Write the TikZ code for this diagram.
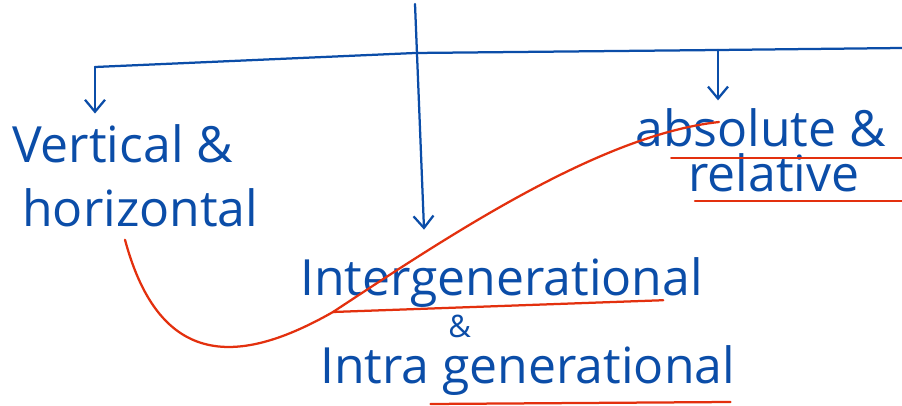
\documentclass[tikz,border=0pt]{standalone}
\usepackage{fontspec}
\setmainfont{Open Sans}
\usetikzlibrary{arrows.meta}
\definecolor{Ink}{HTML}{0B4DA8}
\definecolor{Marker}{HTML}{E3300E}

\begin{document}
\begin{tikzpicture}[x=0.025cm,y=-0.025cm,every node/.style={text=Ink,font=\fontsize{35.5}{40}\selectfont,inner sep=0pt,anchor=base west},branch/.style={draw=Ink,line width=1.6pt,line cap=round},arrow/.style={branch,-{Straight Barb[length=3mm,width=5mm]}},redline/.style={draw=Marker,line width=1.6pt,line cap=round}]
\useasboundingbox[fill=white] (0,0) rectangle (902,406);
% words
\node (vert) at (12,163) {Vertical \&};
\node (horiz) at (22,227) {horizontal};
\node (abs) at (635,147) {absolute \&};
\node (rel) at (688,192) {relative};
\node (inter) at (300,296) {Intergenerational};
\node[font=\fontsize{22}{26}\selectfont] (amp) at (448,338) {\&};
\node (intra) at (320,384) {Intra generational};
% tree
\coordinate (top) at (415,4);
\coordinate (bl) at (95,67);
\coordinate (bm) at (415,53);
\coordinate (br) at (718,50);
\coordinate (be) at (902,48);
\draw[branch] (bl) -- (bm) -- (br) -- (be);
\draw[arrow] (bl) -- ([yshift=8pt]vert.north -| bl);
\draw[arrow] (top) -- ([xshift=3.1cm,yshift=20pt]inter.north west);
\draw[arrow] (br) -- ([yshift=6pt]abs.north -| br);
% red marks
\draw[redline] (horiz.south west) ++(103,12) .. controls (160,370) and (240,365) .. (333,312) coordinate (x) .. controls (450,235) and (600,135) .. (719,122);
\draw[redline] (x) -- ([xshift=-1cm,yshift=-3pt]inter.base east);
\draw[redline] (abs.south east) ++(-215,10) coordinate (u) -- (u -| be);
\draw[redline] (rel.south west) ++(7,8) coordinate (v) -- (v -| be);
\draw[redline] (intra.base east) ++(-305,20) -- ++(300,-2);
\end{tikzpicture}
\end{document}
